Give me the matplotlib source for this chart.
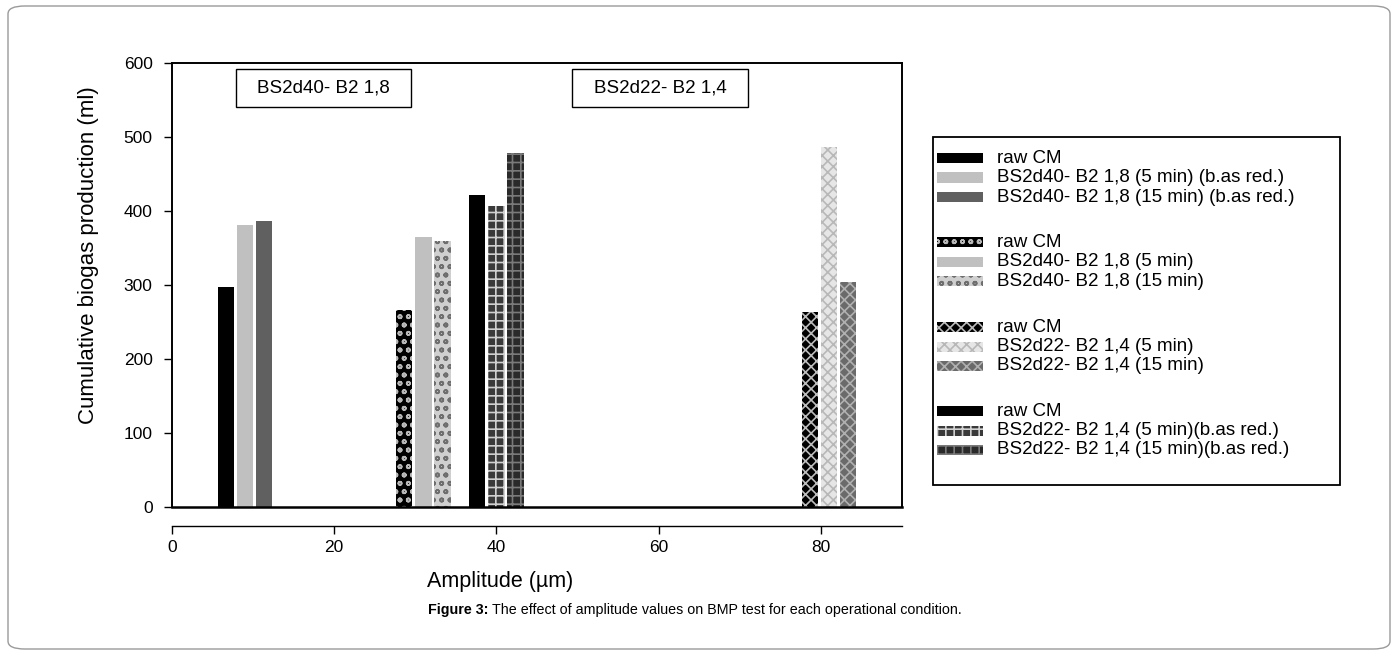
import matplotlib
matplotlib.use("Agg")
import matplotlib.pyplot as plt
from matplotlib.patches import FancyBboxPatch, Rectangle

plt.rcParams['font.family'] = ['Liberation Sans', 'DejaVu Sans']
plt.rcParams['hatch.linewidth'] = 1.2

# ---- data ----
amplitudes = [9, 31, 40, 81]          # group centres on the amplitude axis

g1_labels = ['raw CM', 'BS2d40- B2 1,8 (5 min) (b.as red.)', 'BS2d40- B2 1,8 (15 min) (b.as red.)']
g1_values = [297, 381, 387]

g2_labels = ['raw CM', 'BS2d40- B2 1,8 (5 min)', 'BS2d40- B2 1,8 (15 min)']
g2_values = [266, 365, 360]

g3_labels = ['raw CM', 'BS2d22- B2 1,4 (5 min)(b.as red.)', 'BS2d22- B2 1,4 (15 min)(b.as red.)']
g3_values = [421, 407, 478]

g4_labels = ['raw CM', 'BS2d22- B2 1,4 (5 min)', 'BS2d22- B2 1,4 (15 min)']
g4_values = [264, 486, 304]

y_ticks = [0, 100, 200, 300, 400, 500, 600]
x_ticks = [0, 20, 40, 60, 80]
box_labels = ['BS2d40- B2 1,8', 'BS2d22- B2 1,4']

# ---- styles: (facecolor, hatch, hatchcolor) ----
styles = {
    0: [('#000000', None, '#000000'), ('#c0c0c0', None, '#c0c0c0'), ('#606060', None, '#606060')],
    1: [('#000000', 'oo', '#b8b8b8'), ('#c0c0c0', None, '#c0c0c0'), ('#cfcfcf', 'oo', '#6e6e6e')],
    2: [('#000000', None, '#000000'), ('#3a3a3a', '++', '#d0d0d0'), ('#2a2a2a', '++', '#7a7a7a')],
    3: [('#000000', 'xxx', '#bcbcbc'), ('#e6e6e6', 'xxx', '#b8b8b8'), ('#6a6a6a', 'xxx', '#b0b0b0')],
}
groups = [(g1_labels, g1_values), (g2_labels, g2_values), (g3_labels, g3_values), (g4_labels, g4_values)]

W, H = 1398, 655
fig = plt.figure(figsize=(W / 100, H / 100), dpi=100)


def fx(px):
    return px / W


def fy(py):
    return 1 - py / H


# outer frame
fig.patches.append(FancyBboxPatch((fx(8), fy(649)), (W - 16) / W, 643 / H,
                                  boxstyle="round,pad=0,rounding_size=0.012",
                                  transform=fig.transFigure, fill=False,
                                  edgecolor='#9a9a9a', linewidth=1.0))

ax = fig.add_axes([fx(172), fy(507), (902 - 172) / W, (507 - 63) / H])

bar_w = 2.0
offsets = [-2.35, 0.0, 2.35]
for gi, (labels, values) in enumerate(groups):
    for si in range(3):
        fc, hatch, hc = styles[gi][si]
        ax.bar(amplitudes[gi] + offsets[si], values[si], width=bar_w,
               color=fc, edgecolor=hc, hatch=hatch, linewidth=0)

ax.set_xlim(0, 90)
ax.set_ylim(0, 600)
ax.set_yticks(y_ticks)
ax.set_xticks(x_ticks)
ax.tick_params(axis='y', direction='out', length=6, width=1.0, labelsize=12.5, pad=8, colors='black')
ax.tick_params(axis='x', direction='out', length=5.5, width=1.0, labelsize=12.5, pad=4, colors='black')
for s in ax.spines.values():
    s.set_linewidth(1.4)
ax.spines['bottom'].set_position(('outward', 14))
ax.spines['bottom'].set_linewidth(1.0)
ax.axhline(0, color='black', linewidth=1.8, clip_on=False, zorder=5)

fig.text(fx(89), fy(255), 'Cumulative biogas production (ml)', rotation=90,
         ha='center', va='center', fontsize=16)
fig.text(fx(500), fy(581), 'Amplitude (µm)', ha='center', va='center', fontsize=15.5)

# labelled boxes
for (x0, x1), txt in zip([(236, 411), (572, 748)], box_labels):
    fig.patches.append(Rectangle((fx(x0), fy(107)), (x1 - x0) / W, 38 / H,
                                 transform=fig.transFigure, facecolor='white',
                                 edgecolor='black', linewidth=1.0))
    fig.text(fx((x0 + x1) / 2), fy(88), txt, ha='center', va='center', fontsize=13.5)

# legend (four groups in one frame)
fig.patches.append(Rectangle((fx(933), fy(485)), (1340 - 933) / W, (485 - 137) / H,
                             transform=fig.transFigure, fill=False, edgecolor='black', linewidth=1.3))
legend_order = [0, 1, 3, 2]
first_rows = [158, 242, 327, 411]
row_pitch = 19.5
for gi, ytop in zip(legend_order, first_rows):
    labels = groups[gi][0]
    for si in range(3):
        yc = ytop + si * row_pitch
        fc, hatch, hc = styles[gi][si]
        fig.patches.append(Rectangle((fx(937), fy(yc + 5)), 46 / W, 10 / H,
                                     transform=fig.transFigure, facecolor=fc,
                                     edgecolor=hc, hatch=hatch, linewidth=0))
        fig.text(fx(997), fy(yc), labels[si], ha='left', va='center', fontsize=13.5)

# caption
t1 = fig.text(fx(428), fy(610), 'Figure 3:', fontsize=10.3, fontweight='bold', va='center', ha='left')
fig.canvas.draw()
bb = t1.get_window_extent()
fig.text((bb.x1 + 4) / W, fy(610), 'The effect of amplitude values on BMP test for each operational condition.',
         fontsize=10.3, va='center', ha='left')

fig.savefig('out.png', dpi=100)
